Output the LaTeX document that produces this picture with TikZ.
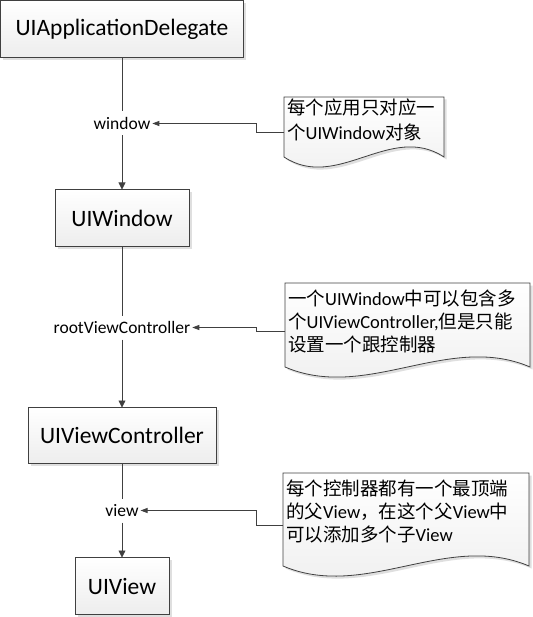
\documentclass[tikz,border=0pt]{standalone}
\usepackage{fontspec}
\setmainfont{Carlito}
\newfontfamily\cjk{Noto Sans CJK SC}
\usetikzlibrary{graphs, positioning, arrows.meta, shadows, backgrounds}
\definecolor{linegray}{HTML}{404040}

\tikzset{
  box/.style={draw=linegray, line width=0.8pt, top color=white, bottom color=black!7,
    minimum height=57pt, inner sep=0pt, outer sep=0pt, font=\fontsize{23.5}{28}\selectfont,
    drop shadow={shadow xshift=2.5pt, shadow yshift=-2.5pt, fill=black!25}},
  lbl/.style={minimum height=24pt, inner sep=0pt, inner xsep=2pt, outer sep=0pt,
    font=\fontsize{17.5}{21}\selectfont},
  note/.style={anchor=north west, inner xsep=3pt, inner ysep=7pt, align=left,
    font=\fontsize{18.5}{23}\selectfont},
  doc/.style={draw=linegray, line width=0.8pt, top color=white, bottom color=black!7,
    drop shadow={shadow xshift=2.5pt, shadow yshift=-2.5pt, fill=black!25}},
  conn/.style={draw=linegray, line width=0.8pt},
  tolbl/.style={conn, -{Triangle[length=7pt, width=5pt]}},
}

\begin{document}
\begin{tikzpicture}[x=1pt, y=1pt, node distance=54pt, >={Triangle[length=7pt, width=7pt]}]
		\useasboundingbox (0,0) rectangle (532,-617);
		\node[box, minimum width=243pt, anchor=north west] (app) at (0.5,-0.5) {UIApplicationDelegate};
		\node[lbl, below=of app]                         (window) {window};
		\node[box, minimum width=134pt, below=of window] (win)    {UIWindow};
		\node[lbl, below=69pt of win]                    (rvc)    {rootViewController};
		\node[box, minimum width=188pt, minimum height=56pt, below=68pt of rvc] (vc) {UIViewController};
		\node[lbl, below=35pt of vc]                     (view)   {view};
		\node[box, minimum width=94pt, below=35pt of view] (uiview) {UIView};
		
		\node[note, inner ysep=2pt, font=\fontsize{18.5}{25}\selectfont] (n1) at (284,-97)
			{{\cjk 每个应用只对应一}\\{\cjk 个}UIWindow{\cjk 对象}};
		\node[note] (n2) at (285,-283)
			{{\cjk 一个}UIWindow{\cjk 中可以包含多}\\{\cjk 个}UIViewController,{\cjk 但是只能}\\{\cjk 设置一个跟控制器}};
		\node[note] (n3) at (283,-473)
			{{\cjk 每个控制器都有一个最顶端}\\{\cjk 的父}View{\cjk ，在这个父}View{\cjk 中}\\{\cjk 可以添加多个子}View};
		
		\begin{scope}[on background layer]
			\foreach \n/\w/\h in {n1/160/60, n2/245/84, n3/246/93}
				\path[doc] (\n.north west) -- ++(\w,0) -- ++(0,-\h)
					.. controls +(-\w/3,35) and +(\w/3,-35) .. ++(-\w,0) -- cycle;
		\end{scope}
		
		\graph[edges={conn}]{
			(app) -- (window) -> (win) -- (rvc) -> (vc) -- (view) -> (uiview);
		};
		
		\draw[tolbl] ([yshift=-35pt]n1.north west) -- ++(-28,0) |- (window.east);
		\draw[tolbl] ([yshift=-48pt]n2.north west) -- ++(-29,0) |- (rvc.east);
		\draw[tolbl] ([yshift=-52pt]n3.north west) -- ++(-27,0) |- (view.east);
	\end{tikzpicture}
\end{document}
